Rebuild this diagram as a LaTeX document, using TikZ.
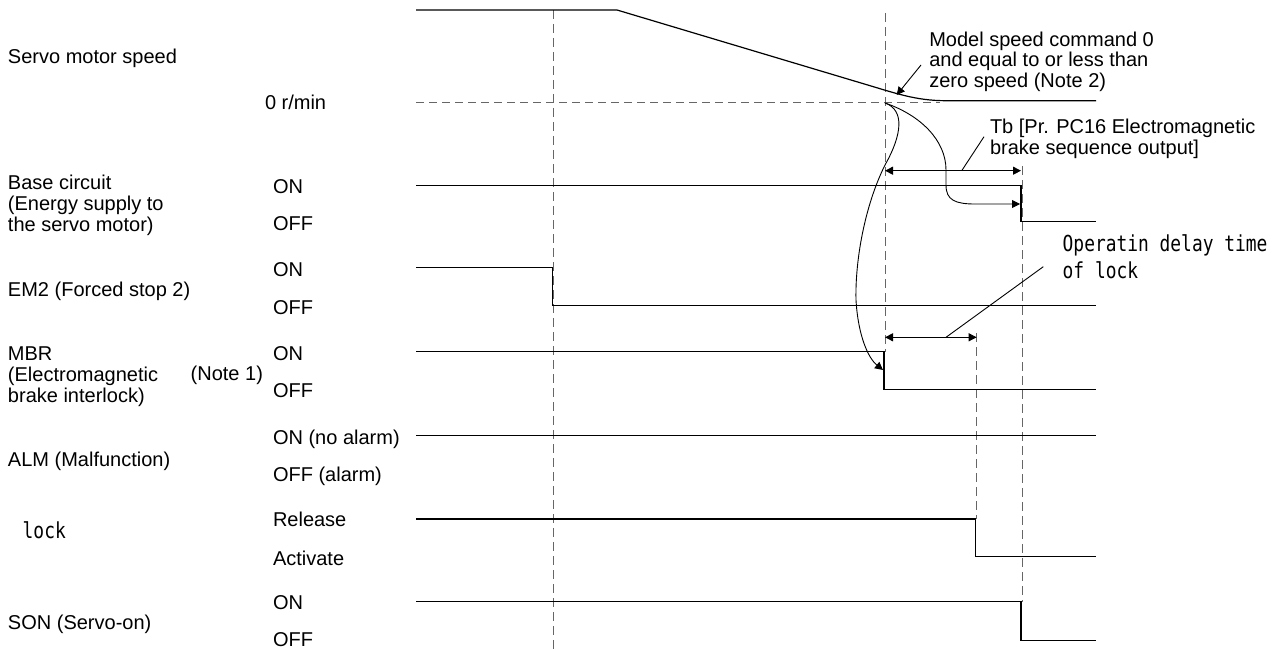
\documentclass[tikz,border=0pt]{standalone}
\usepackage{graphicx}
\usepackage{fontspec}
\setmainfont{Liberation Sans}
\newfontfamily\monof{DejaVu Sans Mono}
\usetikzlibrary{arrows.meta}
\begin{document}
\begin{tikzpicture}[x=1pt,y=-1pt,
  every node/.style={inner sep=0pt, outer sep=0pt},
  txt/.style={anchor=base west, font=\fontsize{20}{22}\selectfont},
  mono/.style={anchor=base west},
  sig/.style={line width=1.2pt, line join=miter},
  guide/.style={draw=black!60, line width=1pt, dash pattern=on 9pt off 5pt},
  zero/.style={draw=black!60, line width=1pt, dash pattern=on 8pt off 5pt},
  lead/.style={line width=0.9pt},
  tip/.style={line width=0.9pt, -{Triangle[length=8pt,width=8pt]}},
  both/.style={line width=0.9pt, {Triangle[length=8pt,width=8pt]}-{Triangle[length=8pt,width=8pt]}}
]
\useasboundingbox (0,0) rectangle (1288,650);

% ---------- left labels ----------
\node[txt] (lspeed) at (8,64) {Servo motor speed};
\node[txt] (lbase1) at (8,189.3) {Base circuit};
\node[txt] (lbase2) at (8,210.7) {(Energy supply to};
\node[txt] (lbase3) at (8,231.7) {the servo motor)};
\node[txt] (lem2) at (8,296) {EM2 (Forced stop 2)};
\node[txt] (lmbr1) at (8,360) {MBR};
\node[txt] (lmbr2) at (8,381) {(Electromagnetic};
\node[txt] (lmbr3) at (8,402.3) {brake interlock)};
\node[txt] (lnote1) at (190.7,380) {(Note 1)};
\node[txt] (lalm) at (8,466.7) {ALM (Malfunction)};
\node[mono] (llock) at (22.7,538.3) {\scalebox{1}[1.23]{\monof\fontsize{17.9}{20}\selectfont lock}};
\node[txt] (lson) at (8,629.3) {SON (Servo-on)};

% ---------- state labels ----------
\node[txt] (s0) at (265,110) {0 r/min};
\node[txt] (sbon) at (273,193.3) {ON};
\node[txt] (sboff) at (273,230.7) {OFF};
\node[txt] (seon) at (273,276) {ON};
\node[txt] (seoff) at (273,314) {OFF};
\node[txt] (smon) at (273,360) {ON};
\node[txt] (smoff) at (273,397.3) {OFF};
\node[txt] (saon) at (273,444) {ON (no alarm)};
\node[txt] (saoff) at (273,481) {OFF (alarm)};
\node[txt] (srel) at (273,526) {Release};
\node[txt] (sact) at (273,565) {Activate};
\node[txt] (sson) at (273,609.3) {ON};
\node[txt] (ssoff) at (273,646.7) {OFF};

% ---------- guide lines ----------
\draw[zero] (416,102.7) -- (940,102.7);
\draw[guide] (553,10) -- (553,650);
\draw[guide] (885,13) -- (885,352);
\draw[guide] (1022,166) -- (1022,602);
\draw[guide] (976.7,333) -- (976.7,519);

% ---------- signals ----------
\draw[sig] (416,10) -- (617,10) -- (860,82.7) .. controls (895,93) and (915,100.7) .. (946,100.7) -- (1096,100.7);
\draw[sig] (416,185.3) -- (1021,185.3) -- (1021,221.7) -- (1096,221.7);
\draw[sig] (416,267.7) -- (552.3,267.7) -- (552.3,305.7) -- (1096,305.7);
\draw[sig] (416,351.7) -- (884,351.7) -- (884,389.7) -- (1096,389.7);
\draw[sig] (416,435.3) -- (1096,435.3);
\draw[sig] (416,519) -- (975.7,519) -- (975.7,556.3) -- (1096,556.3);
\draw[sig] (416,601.7) -- (1021,601.7) -- (1021,640.3) -- (1096,640.3);

% ---------- annotations ----------
\node[txt] (n2a) at (929.3,46.7) {Model speed command 0};
\node[txt] (n2b) at (929.3,66.7) {and equal to or less than};
\node[txt] (n2c) at (929.3,87.3) {zero speed (Note 2)};
\coordinate (n2s) at (921,65);
\coordinate (n2e) at (896.7,95);
\draw[tip] (n2s) -- (n2e);

\node[txt] (tba) at (990,133.3) {Tb [Pr. PC16 Electromagnetic};
\node[txt] (tbb) at (990,154) {brake sequence output]};
\coordinate (tbL) at (885,170.7);
\coordinate (tbR) at (1021,170.7);
\coordinate (tbM) at (961.7,170.7);
\coordinate (tbT) at (984,136.7);
\draw[both] (tbL) -- (tbR);
\draw[lead] (tbT) -- (tbM);

\node[mono] (opa) at (1062.7,251.7) {\scalebox{1}[1.23]{\monof\fontsize{17.9}{20}\selectfont Operatin delay time}};
\node[mono] (opb) at (1062.7,278.3) {\scalebox{1}[1.23]{\monof\fontsize{17.9}{20}\selectfont of lock}};
\coordinate (opL) at (885,337.3);
\coordinate (opR) at (976.7,337.3);
\coordinate (opM) at (946,337.3);
\coordinate (opT) at (1043.3,266.7);
\draw[both] (opL) -- (opR);
\draw[lead] (opT) -- (opM);

% ---------- causal curves ----------
\coordinate (zs) at (885,103);
\coordinate (mbrstep) at (883,370);
\coordinate (basestep) at (1020,204);
\draw[tip] (zs) .. controls (905,110) and (902,135) .. (885,165)
  .. controls (865,205) and (855,260) .. (856,300)
  .. controls (858,335) and (868,358) .. (mbrstep);
\draw[tip] (zs) .. controls (920,115) and (946,140) .. (946,170) -- (946,185)
  .. controls (946,200) and (955,204) .. (975,204) -- (basestep);
\end{tikzpicture}
\end{document}
